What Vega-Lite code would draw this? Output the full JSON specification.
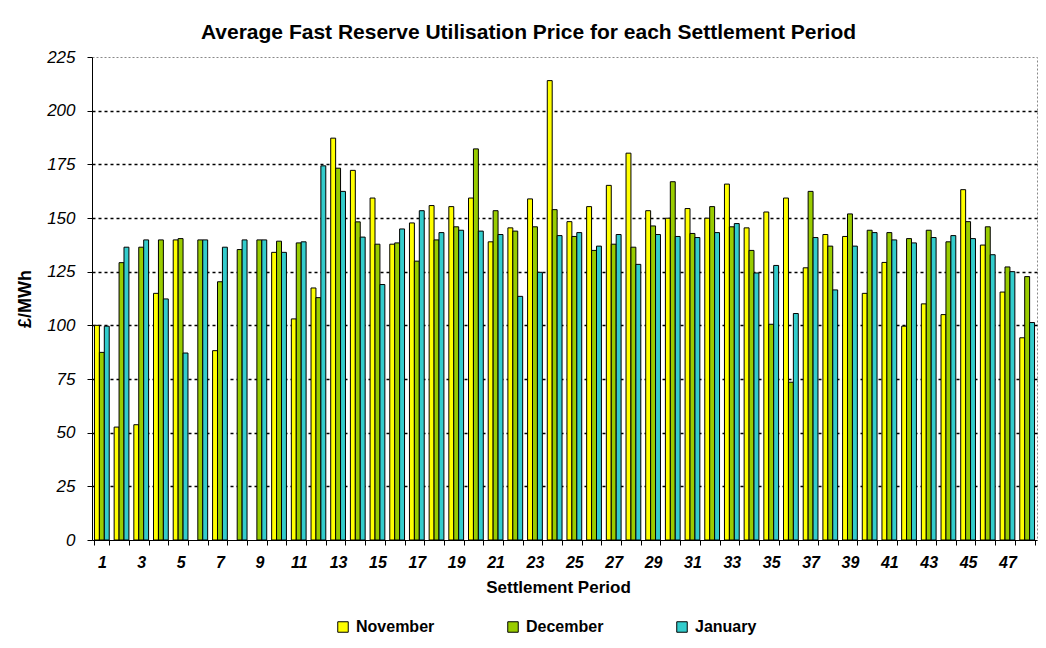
{
  "$schema": "https://vega.github.io/schema/vega-lite/v6.json",
  "width": 945,
  "height": 483,
  "autosize": {"type": "none"},
  "padding": {"left": 92, "top": 57, "right": 9, "bottom": 108},
  "background": "white",
  "title": {
    "text": "Average Fast Reserve Utilisation Price for each Settlement Period",
    "fontSize": 21,
    "fontWeight": "bold",
    "color": "black",
    "anchor": "middle",
    "dx": -36,
    "dy": 31,
    "baseline": "alphabetic",
    "offset": 19
  },
  "data": {
    "values": [
      {"p": 1, "m": "November", "v": 100}, {"p": 1, "m": "December", "v": 87.4}, {"p": 1, "m": "January", "v": 99.6},
      {"p": 2, "m": "November", "v": 52.6}, {"p": 2, "m": "December", "v": 129.2}, {"p": 2, "m": "January", "v": 136.4},
      {"p": 3, "m": "November", "v": 53.7}, {"p": 3, "m": "December", "v": 136.4}, {"p": 3, "m": "January", "v": 139.8},
      {"p": 4, "m": "November", "v": 114.9}, {"p": 4, "m": "December", "v": 139.8}, {"p": 4, "m": "January", "v": 112.3},
      {"p": 5, "m": "November", "v": 139.8}, {"p": 5, "m": "December", "v": 140.4}, {"p": 5, "m": "January", "v": 87.1},
      {"p": 6, "m": "December", "v": 139.8}, {"p": 6, "m": "January", "v": 139.8},
      {"p": 7, "m": "November", "v": 88.2}, {"p": 7, "m": "December", "v": 120.3}, {"p": 7, "m": "January", "v": 136.4},
      {"p": 8, "m": "December", "v": 135.3}, {"p": 8, "m": "January", "v": 139.8},
      {"p": 9, "m": "December", "v": 139.8}, {"p": 9, "m": "January", "v": 139.8},
      {"p": 10, "m": "November", "v": 134}, {"p": 10, "m": "December", "v": 139.2}, {"p": 10, "m": "January", "v": 134},
      {"p": 11, "m": "November", "v": 103}, {"p": 11, "m": "December", "v": 138.4}, {"p": 11, "m": "January", "v": 138.9},
      {"p": 12, "m": "November", "v": 117.4}, {"p": 12, "m": "December", "v": 112.9}, {"p": 12, "m": "January", "v": 174.3},
      {"p": 13, "m": "November", "v": 187.2}, {"p": 13, "m": "December", "v": 173.2}, {"p": 13, "m": "January", "v": 162.4},
      {"p": 14, "m": "November", "v": 172.2}, {"p": 14, "m": "December", "v": 148.2}, {"p": 14, "m": "January", "v": 141.1},
      {"p": 15, "m": "November", "v": 159.3}, {"p": 15, "m": "December", "v": 137.8}, {"p": 15, "m": "January", "v": 119},
      {"p": 16, "m": "November", "v": 137.8}, {"p": 16, "m": "December", "v": 138.4}, {"p": 16, "m": "January", "v": 144.9},
      {"p": 17, "m": "November", "v": 147.7}, {"p": 17, "m": "December", "v": 129.9}, {"p": 17, "m": "January", "v": 153.4},
      {"p": 18, "m": "November", "v": 155.8}, {"p": 18, "m": "December", "v": 139.8}, {"p": 18, "m": "January", "v": 143.2},
      {"p": 19, "m": "November", "v": 155.3}, {"p": 19, "m": "December", "v": 145.9}, {"p": 19, "m": "January", "v": 144.3},
      {"p": 20, "m": "November", "v": 159.3}, {"p": 20, "m": "December", "v": 182.2}, {"p": 20, "m": "January", "v": 143.9},
      {"p": 21, "m": "November", "v": 138.9}, {"p": 21, "m": "December", "v": 153.4}, {"p": 21, "m": "January", "v": 142.3},
      {"p": 22, "m": "November", "v": 145.4}, {"p": 22, "m": "December", "v": 143.9}, {"p": 22, "m": "January", "v": 113.5},
      {"p": 23, "m": "November", "v": 158.9}, {"p": 23, "m": "December", "v": 145.9}, {"p": 23, "m": "January", "v": 124.7},
      {"p": 24, "m": "November", "v": 214}, {"p": 24, "m": "December", "v": 153.9}, {"p": 24, "m": "January", "v": 141.8},
      {"p": 25, "m": "November", "v": 148.3}, {"p": 25, "m": "December", "v": 141.4}, {"p": 25, "m": "January", "v": 143.2},
      {"p": 26, "m": "November", "v": 155.3}, {"p": 26, "m": "December", "v": 134.9}, {"p": 26, "m": "January", "v": 136.9},
      {"p": 27, "m": "November", "v": 165.2}, {"p": 27, "m": "December", "v": 137.8}, {"p": 27, "m": "January", "v": 142.3},
      {"p": 28, "m": "November", "v": 180.2}, {"p": 28, "m": "December", "v": 136.4}, {"p": 28, "m": "January", "v": 128.4},
      {"p": 29, "m": "November", "v": 153.4}, {"p": 29, "m": "December", "v": 146.3}, {"p": 29, "m": "January", "v": 142.3},
      {"p": 30, "m": "November", "v": 149.9}, {"p": 30, "m": "December", "v": 166.9}, {"p": 30, "m": "January", "v": 141.4},
      {"p": 31, "m": "November", "v": 154.4}, {"p": 31, "m": "December", "v": 142.8}, {"p": 31, "m": "January", "v": 140.9},
      {"p": 32, "m": "November", "v": 149.9}, {"p": 32, "m": "December", "v": 155.3}, {"p": 32, "m": "January", "v": 143.2},
      {"p": 33, "m": "November", "v": 165.8}, {"p": 33, "m": "December", "v": 145.9}, {"p": 33, "m": "January", "v": 147.4},
      {"p": 34, "m": "November", "v": 145.4}, {"p": 34, "m": "December", "v": 134.9}, {"p": 34, "m": "January", "v": 124.4},
      {"p": 35, "m": "November", "v": 152.8}, {"p": 35, "m": "December", "v": 100.5}, {"p": 35, "m": "January", "v": 127.9},
      {"p": 36, "m": "November", "v": 159.3}, {"p": 36, "m": "December", "v": 73.5}, {"p": 36, "m": "January", "v": 105.5},
      {"p": 37, "m": "November", "v": 126.8}, {"p": 37, "m": "December", "v": 162.4}, {"p": 37, "m": "January", "v": 140.9},
      {"p": 38, "m": "November", "v": 142.3}, {"p": 38, "m": "December", "v": 136.9}, {"p": 38, "m": "January", "v": 116.5},
      {"p": 39, "m": "November", "v": 141.4}, {"p": 39, "m": "December", "v": 151.9}, {"p": 39, "m": "January", "v": 136.9},
      {"p": 40, "m": "November", "v": 114.9}, {"p": 40, "m": "December", "v": 144.3}, {"p": 40, "m": "January", "v": 143.2},
      {"p": 41, "m": "November", "v": 129.3}, {"p": 41, "m": "December", "v": 143.2}, {"p": 41, "m": "January", "v": 139.8},
      {"p": 42, "m": "November", "v": 99.6}, {"p": 42, "m": "December", "v": 140.4}, {"p": 42, "m": "January", "v": 138.4},
      {"p": 43, "m": "November", "v": 110}, {"p": 43, "m": "December", "v": 144.3}, {"p": 43, "m": "January", "v": 140.9},
      {"p": 44, "m": "November", "v": 105}, {"p": 44, "m": "December", "v": 138.9}, {"p": 44, "m": "January", "v": 141.8},
      {"p": 45, "m": "November", "v": 163.2}, {"p": 45, "m": "December", "v": 148.3}, {"p": 45, "m": "January", "v": 140.4},
      {"p": 46, "m": "November", "v": 137.4}, {"p": 46, "m": "December", "v": 145.9}, {"p": 46, "m": "January", "v": 132.9},
      {"p": 47, "m": "November", "v": 115.5}, {"p": 47, "m": "December", "v": 127.2}, {"p": 47, "m": "January", "v": 125},
      {"p": 48, "m": "November", "v": 94.2}, {"p": 48, "m": "December", "v": 122.7}, {"p": 48, "m": "January", "v": 101.3}
    ]
  },
  "mark": {"type": "bar", "stroke": "black", "strokeWidth": 1},
  "encoding": {
    "x": {
      "field": "p",
      "type": "ordinal",
      "scale": {"paddingInner": 0.25, "paddingOuter": 0.125},
      "axis": {
        "title": "Settlement Period",
        "titleFontSize": 17,
        "titleFontWeight": "bold",
        "titleColor": "black",
        "titlePadding": 9,
        "titleX": 466,
        "labelAngle": 0,
        "labelFontSize": 16,
        "labelFontWeight": "bold",
        "labelFontStyle": "italic",
        "labelColor": "black",
        "labelPadding": 9,
        "labelExpr": "datum.value % 2 == 1 ? datum.label : ''",
        "tickBand": "extent",
        "tickSize": 5,
        "tickColor": "black",
        "domainColor": "black",
        "grid": false
      }
    },
    "xOffset": {
      "field": "m",
      "sort": ["November", "December", "January"],
      "scale": {"paddingInner": 0, "paddingOuter": 0}
    },
    "y": {
      "field": "v",
      "type": "quantitative",
      "scale": {"domain": [0, 225], "nice": false},
      "axis": {
        "values": [0, 25, 50, 75, 100, 125, 150, 175, 200, 225],
        "title": "£/MWh",
        "titleFontSize": 18,
        "titleFontWeight": "bold",
        "titleColor": "black",
        "titlePadding": 12,
        "labelFontSize": 17,
        "labelFontStyle": "italic",
        "labelColor": "black",
        "labelPadding": 12,
        "tickSize": 5,
        "tickColor": "black",
        "domainColor": "black",
        "grid": true,
        "gridColor": {"condition": {"test": "datum.value == 225 || datum.value == 0", "value": "transparent"}, "value": "black"},
        "gridDash": [3, 3],
        "gridWidth": 1.5
      }
    },
    "color": {
      "field": "m",
      "type": "nominal",
      "sort": ["November", "December", "January"],
      "scale": {"domain": ["November", "December", "January"], "range": ["#FFFF00", "#99CC00", "#33CCCC"]},
      "legend": {
        "title": null,
        "orient": "none",
        "legendX": 243,
        "legendY": 562,
        "direction": "horizontal",
        "symbolType": "square",
        "symbolSize": 110,
        "symbolStrokeColor": "black",
        "symbolStrokeWidth": 1,
        "symbolOpacity": 1,
        "labelFontSize": 16,
        "labelFontWeight": "bold",
        "labelColor": "black",
        "labelOffset": 5,
        "columnPadding": 70
      }
    }
  },
  "config": {
    "font": "Liberation Sans",
    "view": {"stroke": "#888888", "strokeDash": [2, 2], "strokeWidth": 1}
  }
}
